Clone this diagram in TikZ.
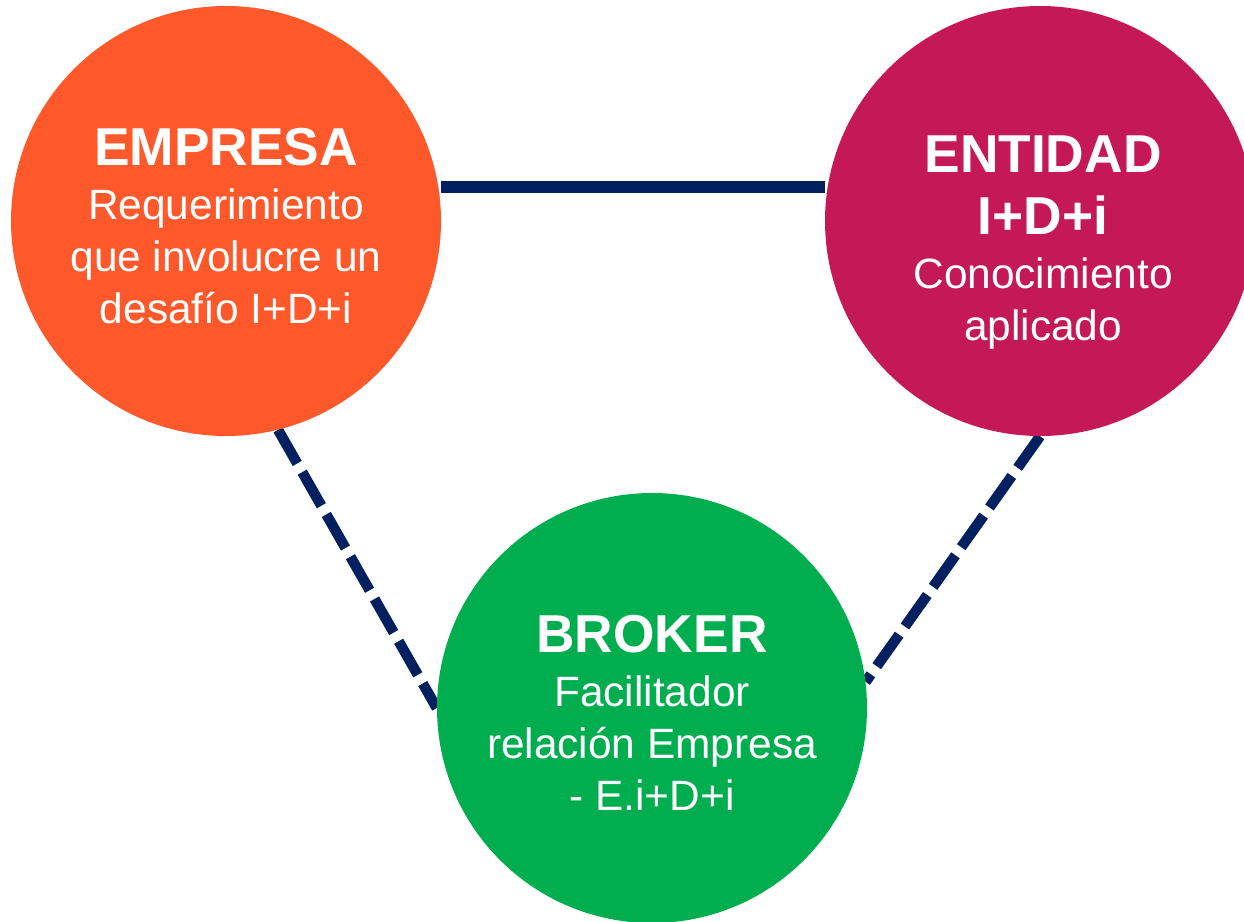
\documentclass[tikz,border=0pt]{standalone}
\usepackage{fontspec}
\setmainfont{Liberation Sans}
\usetikzlibrary{backgrounds}

\definecolor{naranjo}{HTML}{FF582B}
\definecolor{fucsia}{HTML}{C51957}
\definecolor{verde}{HTML}{00AE50}
\definecolor{azul}{HTML}{002060}

\tikzset{
  circulo/.style={circle, draw=none, minimum size=322.5pt, inner sep=0pt},
  texto/.style={text=white, align=center, font=\fontsize{31.8}{39}\selectfont, anchor=base},
  enlace/.style={azul, line width=8.5pt},
  enlacedash/.style={azul, line width=7.8pt, dash pattern=on 29pt off 7.5pt}
}

\begin{document}
\begin{tikzpicture}[x=0.75pt,y=0.75pt,yscale=-1,xscale=1]
			\clip (0,0) rectangle (1244,921);

			\node [circulo, fill=naranjo] (empresa) at (226,221) {};
			\node [circulo, fill=fucsia] (entidad) at (1040,221) {};
			\node [circulo, fill=verde] (broker) at (652,708) {};

			\begin{scope}[on background layer]
			\draw [enlace] (empresa.east |- 0,187) coordinate (e1) -- (entidad.west |- 0,187) coordinate (e2);
			\draw [enlacedash] (empresa.-76) -- (broker.west);
			\draw [enlacedash] (entidad.south) -- (broker.7);
			\end{scope}

			% texto: ancla en la linea base de la ultima linea
			\node [texto] (empresa-txt) at (226,323)
				{{\fontsize{40}{40}\selectfont\bfseries EMPRESA}\\[1pt] Requerimiento\\ que involucre un\\ desafío I+D+i};
			\node [texto] (entidad-txt) at (1043,340)
				{{\fontsize{40}{40}\selectfont\bfseries ENTIDAD}\\[8pt] {\fontsize{40}{40}\selectfont\bfseries I+D+i}\\[1pt] Conocimiento\\ aplicado};
			\node [texto] (broker-txt) at (652,810)
				{{\fontsize{40}{40}\selectfont\bfseries BROKER}\\[1pt] Facilitador\\ relación Empresa\\ - E.i+D+i};
\end{tikzpicture}
\end{document}
